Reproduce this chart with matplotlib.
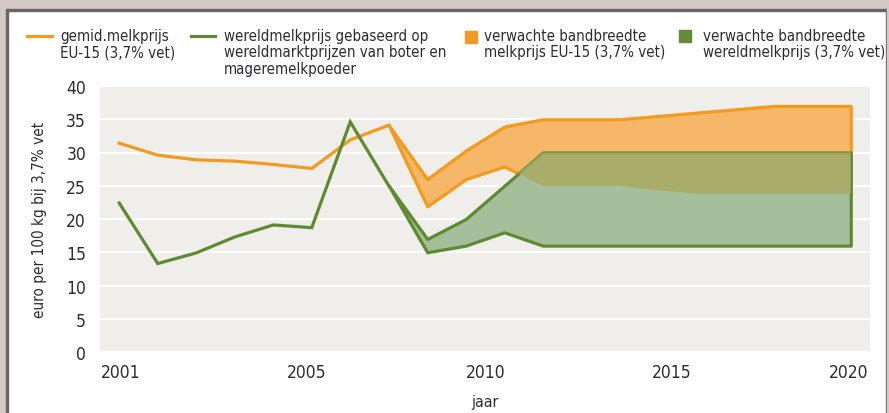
import matplotlib
matplotlib.use("Agg")
import matplotlib.pyplot as plt
import numpy as np
from matplotlib.lines import Line2D
from matplotlib.patches import Rectangle

# ---- data ----
years_hist = [2001, 2002, 2003, 2004, 2005, 2006, 2007, 2008]
eu_hist = [31.4, 29.6, 28.9, 28.7, 28.2, 27.6, 31.9, 34.1]
world_hist = [22.4, 13.3, 14.9, 17.3, 19.1, 18.7, 34.6, 25.0]

years_band = [2008, 2009, 2010, 2011, 2012, 2013, 2014, 2015, 2016, 2017, 2018, 2019, 2020]
eu_high = [34.1, 26.0, 30.3, 33.9, 35.0, 35.0, 35.0, 35.5, 36.0, 36.5, 37.0, 37.0, 37.0]
eu_low = [34.1, 21.9, 26.0, 27.9, 25.0, 25.0, 25.0, 24.3, 23.8, 23.8, 23.8, 23.8, 23.8]
world_high = [25.0, 17.0, 20.0, 25.0, 30.0, 30.0, 30.0, 30.0, 30.0, 30.0, 30.0, 30.0, 30.0]
world_low = [25.0, 15.0, 16.0, 18.0, 16.0, 16.0, 16.0, 16.0, 16.0, 16.0, 16.0, 16.0, 16.0]

xtick_pos = [2001.05, 2005.88, 2010.53, 2015.34, 2019.94]
xtick_labels = ["2001", "2005", "2010", "2015", "2020"]
yticks = [0, 5, 10, 15, 20, 25, 30, 35, 40]

# ---- style ----
ORANGE = "#F39A1F"
ORANGE_FILL = "#F6B768"
GREEN = "#5F8A32"
GREEN_FILL = "#A5BF9A"
OVERLAP = "#ABAA62"
PANEL = "#EFEEEA"
TXT = "#2B2B33"

plt.rcParams["font.family"] = ["DejaVu Sans"]
plt.rcParams["font.stretch"] = "condensed"

W, H = 889, 414
fig = plt.figure(figsize=(W / 100, H / 100), dpi=100)
fig.patch.set_facecolor("white")

# grijze kader rond het figuur
frame = "#D3CAC5"
edge = "#6B6563"
fig.patches.append(Rectangle((0, 1 - 10 / H), 1, 10 / H, transform=fig.transFigure, color=frame, zorder=0))
fig.patches.append(Rectangle((0, 1 - 11.5 / H), 1, 1.5 / H, transform=fig.transFigure, color=edge, zorder=0))
fig.patches.append(Rectangle((0, 0), 6 / W, 1, transform=fig.transFigure, color=frame, zorder=0))
fig.patches.append(Rectangle((6 / W, 0), 1.5 / W, 1 - 10 / H, transform=fig.transFigure, color=edge, zorder=0))
fig.patches.append(Rectangle((886 / W, 0), 1 / W, 1 - 10 / H, transform=fig.transFigure, color=edge, zorder=0))
fig.patches.append(Rectangle((887 / W, 0), 2 / W, 1, transform=fig.transFigure, color=frame, zorder=0))

ax = fig.add_axes([100 / W, (H - 353) / H, 770 / W, 266 / H])
ax.set_facecolor(PANEL)
for s in ax.spines.values():
    s.set_visible(False)

yb = np.array(years_band)
eh, el = np.array(eu_high), np.array(eu_low)
wh, wl = np.array(world_high), np.array(world_low)

# banden
ax.fill_between(yb, el, eh, facecolor=ORANGE_FILL, edgecolor=ORANGE, linewidth=2.3, zorder=2)
ax.fill_between(yb, wl, wh, facecolor=GREEN_FILL, edgecolor=GREEN, linewidth=2.3, zorder=3)
# overlap van beide banden
ax.fill_between(yb, el, wh, where=wh > el, interpolate=True,
                facecolor=OVERLAP, edgecolor="none", alpha=0.85, zorder=4)

# historische lijnen
ax.plot(years_hist, eu_hist, color=ORANGE, lw=2.3, zorder=5, solid_joinstyle="miter")
ax.plot(years_hist, world_hist, color=GREEN, lw=2.3, zorder=6, solid_joinstyle="miter")

ax.set_xlim(2000.5, 2020.5)
ax.set_ylim(0, 40)
ax.set_yticks(yticks)
ax.set_xticks(xtick_pos)
ax.set_xticklabels(xtick_labels)
ax.grid(axis="y", color="white", lw=1.6, zorder=1)
ax.set_axisbelow(True)
ax.tick_params(axis="both", length=0, labelsize=12.5, colors=TXT)
ax.tick_params(axis="y", pad=10)
ax.tick_params(axis="x", pad=8)
ax.set_xlabel("jaar", fontsize=11.5, color=TXT, labelpad=9)
ax.set_ylabel("euro per 100 kg bij 3,7% vet", fontsize=11, color=TXT, labelpad=14)

# legenda boven de grafiek
fs = 10.8
ls = 1.12
ty = 1 - 29 / H
fig.add_artist(Line2D([27 / W, 52 / W], [1 - 37 / H] * 2, color=ORANGE, lw=2.3))
fig.text(60 / W, ty, "gemid.melkprijs\nEU-15 (3,7% vet)", fontsize=fs, color=TXT,
         va="top", ha="left", linespacing=ls)
fig.add_artist(Line2D([191 / W, 215 / W], [1 - 37 / H] * 2, color=GREEN, lw=2.3))
fig.text(224 / W, ty, "wereldmelkprijs gebaseerd op\nwereldmarktprijzen van boter en\nmageremelkpoeder",
         fontsize=fs, color=TXT, va="top", ha="left", linespacing=ls)
fig.patches.append(Rectangle((465 / W, 1 - 44 / H), 12 / W, 12 / H, transform=fig.transFigure,
                             color="#F29A22"))
fig.text(484 / W, ty, "verwachte bandbreedte\nmelkprijs EU-15 (3,7% vet)", fontsize=fs, color=TXT,
         va="top", ha="left", linespacing=ls)
fig.patches.append(Rectangle((679 / W, 1 - 43 / H), 12 / W, 12 / H, transform=fig.transFigure,
                             color="#658A3A"))
fig.text(703 / W, ty, "verwachte bandbreedte\nwereldmelkprijs (3,7% vet)", fontsize=fs, color=TXT,
         va="top", ha="left", linespacing=ls)

fig.savefig("out.png", dpi=100)
